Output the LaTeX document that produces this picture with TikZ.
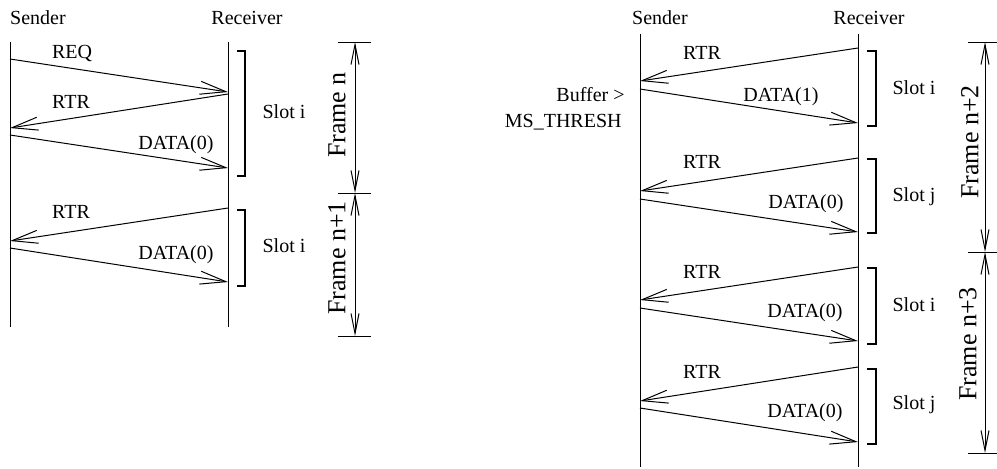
\documentclass[tikz,border=0pt]{standalone}
\usepackage{fontspec}
\setmainfont{Liberation Serif}
\usetikzlibrary{arrows.meta}

\begin{document}
\begin{tikzpicture}[x=0.5pt, y=-0.5pt,
		lbl/.style={inner sep=0pt, font=\fontsize{10}{12}\selectfont},
		framelbl/.style={inner sep=0pt, rotate=90, font=\fontsize{13}{15}\selectfont},
		life/.style={line width=0.5pt},
		msg/.style={line width=0.5pt, -{Straight Barb[length=13pt, width=6.5pt]}},
		slotbr/.style={line width=0.9pt},
		tick/.style={line width=0.5pt},
		span/.style={line width=0.5pt, {Straight Barb[length=10pt, width=4pt]}-{Straight Barb[length=10pt, width=4pt]}},
		]
		\useasboundingbox (0,0) rectangle (997,468);
		
		%% ── LEFT: FRAMES n, n+1 ─────────────────────────────────
		\node[lbl] (sndA) at (38,18)  {Sender};
		\node[lbl] (rcvA) at (247,18) {Receiver};
		\coordinate (sndAt) at (10,42);  \coordinate (sndAb) at (10,327);
		\coordinate (rcvAt) at (228,42); \coordinate (rcvAb) at (228,327);
		\draw[life] (sndAt) -- (sndAb);
		\draw[life] (rcvAt) -- (rcvAb);
		
		% messages
		\coordinate (reqS)  at (10,59);   \coordinate (reqR)  at (228,92);
		\coordinate (rtrAR) at (228,94);  \coordinate (rtrAS) at (10,128);
		\coordinate (datAS) at (10,135);  \coordinate (datAR) at (228,168);
		\coordinate (rtrBR) at (228,208); \coordinate (rtrBS) at (10,241);
		\coordinate (datBS) at (10,248);  \coordinate (datBR) at (228,282);
		\draw[msg] (reqS)  -- (reqR);
		\draw[msg] (rtrAR) -- (rtrAS);
		\draw[msg] (datAS) -- (datAR);
		\draw[msg] (rtrBR) -- (rtrBS);
		\draw[msg] (datBS) -- (datBR);
		\node[lbl] (reqL)  at (72,53)   {REQ};
		\node[lbl] (rtrAL) at (71,102)  {RTR};
		\node[lbl] (datAL) at (176,145) {DATA(0)};
		\node[lbl] (rtrBL) at (71,212)  {RTR};
		\node[lbl] (datBL) at (176,255) {DATA(0)};
		
		% slots
		\draw[slotbr] (237,51) -- (245,51) -- (245,176) -- (237,176);
		\draw[slotbr] (237,210) -- (245,210) -- (245,286) -- (237,286);
		\node[lbl] (slotA) at (284,112) {Slot i};
		\node[lbl] (slotB) at (284,246) {Slot i};
		
		% frames
		\coordinate (fA0) at (355,42); \coordinate (fA1) at (355,193); \coordinate (fA2) at (355,336);
		\draw[tick] (338,42) -- (371,42);
		\draw[tick] (338,193) -- (371,193);
		\draw[tick] (338,336) -- (371,336);
		\draw[span] (fA0) -- (fA1);
		\draw[span] (fA1) -- (fA2);
		\node[framelbl] (frmN)  at (337,115) {Frame n};
		\node[framelbl] (frmN1) at (337,258) {Frame n+1};
		
		%% ── RIGHT: FRAMES n+2, n+3 ──────────────────────────────
		\node[lbl] (sndB) at (660,18) {Sender};
		\node[lbl] (rcvB) at (869,18) {Receiver};
		\coordinate (sndBt) at (640,34);  \coordinate (sndBb) at (640,467);
		\coordinate (rcvBt) at (858,34);  \coordinate (rcvBb) at (858,467);
		\draw[life] (sndBt) -- (sndBb);
		\draw[life] (rcvBt) -- (rcvBb);
		
		\node[lbl, anchor=east] (buf)   at (625,95)  {Buffer >};
		\node[lbl, anchor=east] (thrsh) at (622,122) {MS\_THRESH};
		
		% messages
		\coordinate (r1R) at (858,48);  \coordinate (r1S) at (640,81);
		\coordinate (d1S) at (640,89);  \coordinate (d1R) at (858,123);
		\coordinate (r2R) at (858,158); \coordinate (r2S) at (640,191);
		\coordinate (d2S) at (640,199); \coordinate (d2R) at (858,232);
		\coordinate (r3R) at (858,267); \coordinate (r3S) at (640,300);
		\coordinate (d3S) at (640,308); \coordinate (d3R) at (858,341);
		\coordinate (r4R) at (858,367); \coordinate (r4S) at (640,401);
		\coordinate (d4S) at (640,408); \coordinate (d4R) at (858,442);
		\draw[msg] (r1R) -- (r1S);
		\draw[msg] (d1S) -- (d1R);
		\draw[msg] (r2R) -- (r2S);
		\draw[msg] (d2S) -- (d2R);
		\draw[msg] (r3R) -- (r3S);
		\draw[msg] (d3S) -- (d3R);
		\draw[msg] (r4R) -- (r4S);
		\draw[msg] (d4S) -- (d4R);
		\node[lbl] (r1L) at (702,53)  {RTR};
		\node[lbl] (d1L) at (781,97)  {DATA(1)};
		\node[lbl] (r2L) at (702,162) {RTR};
		\node[lbl] (d2L) at (806,204) {DATA(0)};
		\node[lbl] (r3L) at (702,272) {RTR};
		\node[lbl] (d3L) at (805,313) {DATA(0)};
		\node[lbl] (r4L) at (702,372) {RTR};
		\node[lbl] (d4L) at (805,413) {DATA(0)};
		
		% slots
		\draw[slotbr] (867,51) -- (876,51) -- (876,126) -- (867,126);
		\draw[slotbr] (867,159) -- (876,159) -- (876,233) -- (867,233);
		\draw[slotbr] (867,268) -- (876,268) -- (876,344) -- (867,344);
		\draw[slotbr] (867,369) -- (876,369) -- (876,444) -- (867,444);
		\node[lbl] (slotC) at (914,88)  {Slot i};
		\node[lbl] (slotD) at (914,197) {Slot j};
		\node[lbl] (slotE) at (914,305) {Slot i};
		\node[lbl] (slotF) at (914,405) {Slot j};
		
		% frames
		\coordinate (fB0) at (985,42); \coordinate (fB1) at (985,252); \coordinate (fB2) at (985,453);
		\draw[tick] (968,42) -- (997,42);
		\draw[tick] (968,252) -- (997,252);
		\draw[tick] (968,453) -- (997,453);
		\draw[span] (fB0) -- (fB1);
		\draw[span] (fB1) -- (fB2);
		\node[framelbl] (frmN2) at (970,142) {Frame n+2};
		\node[framelbl] (frmN3) at (968,344) {Frame n+3};
		
	\end{tikzpicture}
\end{document}
